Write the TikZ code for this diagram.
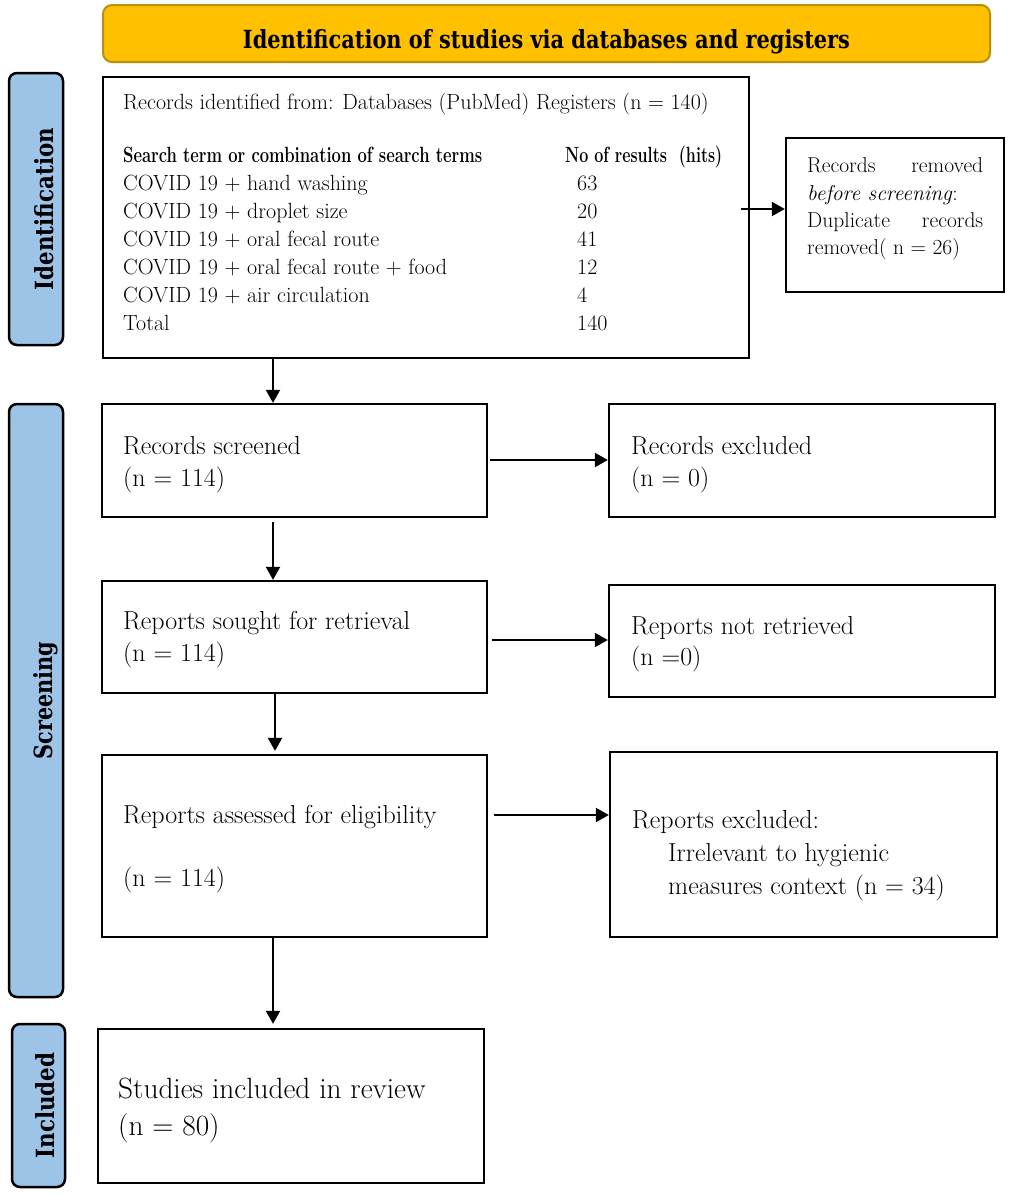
\documentclass[tikz,border=0pt]{standalone}
\usepackage{fontspec}
\usepackage{graphicx}
\newfontfamily\slab{DejaVu Serif}
\usetikzlibrary{arrows.meta,fit}
\definecolor{gold}{HTML}{FFC000}
\definecolor{goldline}{HTML}{B8900A}
\definecolor{sideblue}{HTML}{9DC3E6}
\begin{document}
\begin{tikzpicture}[x=1pt,y=-1pt,
  box/.style={draw=black, line width=2.3pt, inner sep=0pt, fill=white},
  side/.style={draw=black, line width=2.5pt, rounded corners=8pt, fill=sideblue, inner sep=0pt},
  arr/.style={-{Triangle[length=13pt,width=14pt]}, line width=2pt},
  txt/.style={anchor=base west, inner sep=0pt, font=\fontsize{26}{30}\selectfont},
  big/.style={anchor=base west, inner sep=0pt, font=\fontsize{29.3}{33}\selectfont},
  small/.style={anchor=base west, inner sep=0pt, font=\fontsize{22}{26}\selectfont},
  rm/.style={anchor=base west, inner sep=0pt, font=\fontsize{21.5}{25}\selectfont},
  sidelbl/.style={rotate=90, anchor=base, inner sep=0pt},
]
\fill[white] (0,0) rectangle (1013,1195);
\useasboundingbox (0,0) rectangle (1013,1195);

% banner
\node[draw=goldline, line width=2pt, fill=gold, rounded corners=9pt, inner sep=0pt, fit={(103,5) (990,62)}] (banner) {};
\node[anchor=base, inner sep=0pt] (title) at (546.5,48) {\resizebox{607pt}{\height}{\slab\bfseries\fontsize{25}{28}\selectfont Identification of studies via databases and registers}};

% side bars
\node[side, fit={(9,73) (63,345)}] (sb1) {};
\node[side, fit={(9,404) (63,997)}] (sb2) {};
\node[side, fit={(12,1024) (65,1187)}] (sb3) {};
\node[sidelbl] (l1) at ([xshift=-11pt]sb1.east) {\resizebox{162pt}{\height}{\slab\bfseries\fontsize{25}{30}\selectfont Identification}};
\node[sidelbl] (l2) at ([xshift=-12pt]sb2.east) {\resizebox{118pt}{\height}{\slab\bfseries\fontsize{25}{30}\selectfont Screening}};
\node[sidelbl] (l3) at ([xshift=-12pt]sb3.east) {\resizebox{106pt}{\height}{\slab\bfseries\fontsize{25}{30}\selectfont Included}};

% boxes
\node[box, fit={(103,77) (749,358)}] (idbox) {};
\node[box, fit={(786,138) (1004,292)}] (removed) {};
\node[box, fit={(102,404) (487,517)}] (scr) {};
\node[box, fit={(609,404) (995,517)}] (exc) {};
\node[box, fit={(102,581) (487,693)}] (sought) {};
\node[box, fit={(609,585) (995,697)}] (notret) {};
\node[box, fit={(102,755) (487,937)}] (assessed) {};
\node[box, fit={(610,752) (997,937)}] (rexcl) {};
\node[box, fit={(98,1029) (484,1183)}] (incl) {};

% identification box text
\node[small] (idl1) at (123,109) {Records identified from: Databases (PubMed) Registers (n = 140)};
\node[small] (hd1) at (123,162) {\resizebox{359pt}{\height}{\bfseries Search term or combination of search terms}};
\node[small] (hd2) at (565,162) {\resizebox{157pt}{\height}{\bfseries No of results \ (hits)}};
\foreach \yy/\tt/\nn [count=\k] in {190/{COVID 19 + hand washing}/63,
                                   218/{COVID 19 + droplet size}/20,
                                   246/{COVID 19 + oral fecal route}/41,
                                   274/{COVID 19 + oral fecal route + food}/12,
                                   302/{COVID 19 + air circulation}/4,
                                   330/{Total}/140}{
  \node[small] (row\k) at (123,\yy) {\tt};
  \node[small] (num\k) at (577,\yy) {\nn};
}

% removed box text
\node[rm] (rm1) at (807,172) {\makebox[176pt][s]{Records removed}};
\node[rm] (rm2) at (807,200) {\textit{before screening}:};
\node[rm] (rm3) at (807,227) {\makebox[176pt][s]{Duplicate records}};
\node[rm] (rm4) at (807,254) {removed( n = 26)};

% other texts
\node[txt] (s1) at (123,454) {Records screened};
\node[txt] (s2) at (123,486) {(n = 114)};
\node[txt] (e1) at (631,454) {Records excluded};
\node[txt] (e2) at (631,486) {(n = 0)};
\node[txt] (r1) at (123,629) {Reports sought for retrieval};
\node[txt] (r2) at (123,661) {(n = 114)};
\node[txt] (n1) at (631,634) {Reports not retrieved};
\node[txt] (n2) at (631,665) {(n =0)};
\node[txt] (a1) at (123,823) {Reports assessed for eligibility};
\node[txt] (a2) at (123,886) {(n = 114)};
\node[txt] (x1) at (632,828) {Reports excluded:};
\node[txt] (x2) at (668,861) {Irrelevant to hygienic};
\node[txt] (x3) at (668,894) {measures context (n = 34)};
\node[big] (i1) at (118,1098) {Studies included in review};
\node[big] (i2) at (118,1135) {(n = 80)};

% connectors
\draw[arr] ([xshift=-9pt]idbox.east |- 0,209) -- (removed.west |- 0,209);
\draw[arr] (273,0 |- idbox.south) -- (273,0 |- scr.north);
\draw[arr, shorten <=2pt] (scr.east |- 0,460) -- (exc.west |- 0,460);
\draw[arr, shorten <=4pt] (273,0 |- scr.south) -- (273,0 |- sought.north);
\draw[arr, shorten <=4pt] (sought.east |- 0,640) -- (notret.west |- 0,640);
\draw[arr, shorten >=3pt] (275,0 |- sought.south) -- (275,0 |- assessed.north);
\draw[arr, shorten <=6pt] (assessed.east |- 0,815) -- (rexcl.west |- 0,815);
\draw[arr, shorten >=4pt] (273,0 |- assessed.south) -- (273,0 |- incl.north);
\end{tikzpicture}
\end{document}
